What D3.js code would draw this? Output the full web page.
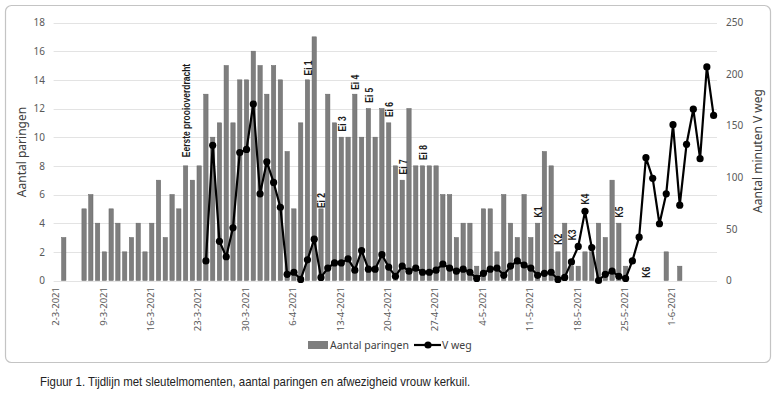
<!DOCTYPE html>
<html>
<head>
<meta charset="utf-8">
<script src="https://cdn.jsdelivr.net/npm/d3@7"></script>
<style>
  body { margin: 0; background: #fff; }
  svg { display: block; }
</style>
</head>
<body>
<div id="chart"></div>
<script>
// dagen 2-3-2021 t/m 7-6-2021
var startDay = new Date(2021, 2, 2);
var endDay = new Date(2021, 5, 8);
var days = d3.timeDay.range(startDay, endDay);

// aantal paringen per dag (vanaf 2-3)
var paringen = [
  0, 3, 0, 0, 5, 6, 4, 2, 5, 4, 2, 3, 4, 2, 4, 7, 3, 6, 5, 8,   // 2-3 .. 21-3
  7, 8, 13, 10, 11, 15, 11, 14, 14, 16,                          // 22-3 .. 31-3
  15, 13, 15, 14, 9, 5, 11, 14, 17, 5, 13, 11, 10, 10, 13, 10,   // 1-4 .. 16-4
  12, 10, 12, 11, 8, 7, 12, 8, 8, 8, 8, 6, 6, 3,                 // 17-4 .. 30-4
  4, 4, 1, 5, 5, 2, 6, 4, 3, 6, 3, 4, 9, 8, 2, 4, 1, 1, 2, 2,    // 1-5 .. 20-5
  4, 3, 7, 4, 1, 0, 0, 0, 0, 0, 2,                               // 21-5 .. 31-5
  0, 1, 0, 0, 0, 0, 0                                            // 1-6 .. 7-6
];

// minuten V weg (vanaf 24-3)
var vwegStart = new Date(2021, 2, 24);
var vweg = [
  19, 131, 38, 23, 51, 124, 127, 171,                             // 24-3 .. 31-3
  84, 115, 95, 71, 6, 8, 1, 20, 40, 3, 12, 17, 17, 21, 10,        // 1-4 .. 15-4
  29, 11, 11, 25, 13, 4, 14, 9, 12, 8, 8, 10, 16, 12, 9,          // 16-4 .. 30-4
  11, 8, 2, 7, 11, 12, 5, 14, 19, 15, 12, 5, 7, 8, 1, 3,          // 1-5 .. 16-5
  18, 33, 67, 32, 0, 6, 9, 4, 2, 19, 42, 119, 99, 55, 84,         // 17-5 .. 31-5
  151, 73, 132, 166, 118, 207, 160                                // 1-6 .. 7-6
];

// sleutelmomenten: datum, tekst, hoogte (in paringen)
var labelDates = ["21-3", "8-4", "10-4", "13-4", "15-4", "17-4", "20-4", "22-4", "25-4",
                  "12-5", "15-5", "17-5", "19-5", "24-5", "28-5"];
var labelTexts = ["Eerste prooioverdracht", "Ei 1", "Ei 2", "Ei 3", "Ei 4", "Ei 5", "Ei 6", "Ei 7", "Ei 8",
                  "K1", "K2", "K3", "K4", "K5", "K6"];
var labelLevels = [8.6, 14.3, 5.05, 10.4, 13.3, 12.4, 11.4, 7.4, 8.4, 4.4, 2.5, 2.8, 5.3, 4.4, 0.2];

var leftTicks = [0, 2, 4, 6, 8, 10, 12, 14, 16, 18];
var rightTicks = [0, 50, 100, 150, 200, 250];

var w = 780, h = 397;
var fmt = d3.timeFormat("%-d-%-m-%Y");
var parseLabel = function(s) { var p = s.split("-"); return new Date(2021, +p[1] - 1, +p[0]); };

var svg = d3.select("#chart").append("svg")
  .attr("width", w)
  .attr("height", h);

// kader
svg.append("rect")
  .attr("x", 5.5).attr("y", 5.5)
  .attr("width", 765).attr("height", 357)
  .attr("rx", 6)
  .style("fill", "#fff")
  .style("stroke", "#c4c4c4")
  .style("stroke-width", 1.2);

var x = d3.scaleBand()
  .domain(days.map(d => +d))
  .range([53.6, 717])
  .paddingInner(0.36)
  .paddingOuter(0.18);
var cx = d => x(+d) + x.bandwidth() / 2;

var yL = d3.scaleLinear().domain([0, 18]).range([280.5, 22.5]);
var yR = d3.scaleLinear().domain([0, 250]).range([280.5, 22.5]);

// rasterlijnen
svg.append("g")
  .selectAll("line")
  .data(leftTicks)
  .join("line")
  .attr("x1", 53.6).attr("x2", 717)
  .attr("y1", d => Math.round(yL(d)) + 0.5)
  .attr("y2", d => Math.round(yL(d)) + 0.5)
  .style("stroke", "#e3e3e3")
  .style("stroke-width", 1);

// assen
var leftAxis = svg.append("g")
  .attr("transform", "translate(45,0)")
  .call(d3.axisLeft(yL).tickValues(leftTicks).tickSize(0).tickPadding(0));
var rightAxis = svg.append("g")
  .attr("transform", "translate(726,0)")
  .call(d3.axisRight(yR).tickValues(rightTicks).tickSize(0).tickPadding(0));
[leftAxis, rightAxis].forEach(function(g) {
  g.select(".domain").remove();
  g.selectAll("text")
    .style("font-family", "'Noto Sans', sans-serif")
    .style("font-size", "10px")
    .style("fill", "#595959");
});

// datumlabels (elke week)
var tickDays = days.filter((d, i) => i % 7 == 0 && i <= 91);
svg.append("g")
  .selectAll("text")
  .data(tickDays)
  .join("text")
  .attr("transform", d => "translate(" + (cx(d) - 1) + ",287) rotate(-90)")
  .attr("text-anchor", "end")
  .attr("dy", "0.35em")
  .style("font-family", "'Noto Sans', sans-serif")
  .style("font-size", "9.5px")
  .style("fill", "#595959")
  .text(d => fmt(d));

// balken
svg.append("g")
  .selectAll("rect")
  .data(days.map((d, i) => ({ date: d, value: paringen[i] })).filter(d => d.value > 0))
  .join("rect")
  .attr("x", d => x(+d.date))
  .attr("y", d => yL(d.value))
  .attr("width", x.bandwidth())
  .attr("height", d => yL(0) - yL(d.value))
  .style("fill", "#7e7e7e")
  .style("stroke", "#666")
  .style("stroke-width", 0.5);

// lijn V weg
var lineData = vweg.map((v, i) => ({ date: d3.timeDay.offset(vwegStart, i), value: v }));
var line = d3.line()
  .x(d => cx(d.date))
  .y(d => yR(d.value));
svg.append("path")
  .datum(lineData)
  .attr("d", line)
  .style("fill", "none")
  .style("stroke", "#000")
  .style("stroke-width", 2.2)
  .style("stroke-linejoin", "round");
svg.append("g")
  .selectAll("circle")
  .data(lineData)
  .join("circle")
  .attr("cx", d => cx(d.date))
  .attr("cy", d => yR(d.value))
  .attr("r", 3.6)
  .style("fill", "#000");

// sleutelmomenten
svg.append("g")
  .selectAll("text")
  .data(labelTexts)
  .join("text")
  .attr("transform", (d, i) => "translate(" + (cx(parseLabel(labelDates[i])) + 1) + "," + yL(labelLevels[i]) + ") rotate(-90) scale(0.85,1)")
  .attr("dy", "0.35em")
  .style("font-family", "'Liberation Sans', sans-serif")
  .style("font-weight", "bold")
  .style("font-size", "10px")
  .style("fill", "#1a1a1a")
  .text(d => d);

// astitels
svg.append("text")
  .attr("transform", "translate(22,152) rotate(-90)")
  .attr("text-anchor", "middle")
  .attr("dy", "0.35em")
  .style("font-family", "'Noto Sans', sans-serif")
  .style("font-size", "12px")
  .style("fill", "#404040")
  .text("Aantal paringen");
svg.append("text")
  .attr("transform", "translate(758,151) rotate(-90)")
  .attr("text-anchor", "middle")
  .attr("dy", "0.35em")
  .style("font-family", "'Noto Sans', sans-serif")
  .style("font-size", "12px")
  .style("fill", "#404040")
  .text("Aantal minuten V weg");

// legenda
var legend = svg.append("g").attr("transform", "translate(308,345)");
legend.append("rect")
  .attr("x", 0).attr("y", -4)
  .attr("width", 20).attr("height", 8)
  .style("fill", "#7e7e7e");
legend.append("text")
  .attr("x", 22).attr("dy", "0.35em")
  .style("font-family", "'Noto Sans', sans-serif")
  .style("font-size", "10.5px")
  .style("fill", "#404040")
  .text("Aantal paringen");
legend.append("line")
  .attr("x1", 106).attr("x2", 133)
  .style("stroke", "#000").style("stroke-width", 2.2);
legend.append("circle")
  .attr("cx", 120).attr("r", 3.6)
  .style("fill", "#000");
legend.append("text")
  .attr("x", 134).attr("dy", "0.35em")
  .style("font-family", "'Noto Sans', sans-serif")
  .style("font-size", "10.5px")
  .style("fill", "#404040")
  .text("V weg");

// bijschrift (smal lettertype nagebootst)
svg.append("text")
  .attr("transform", "translate(40,386) scale(0.88,1)")
  .style("font-family", "'Liberation Sans', sans-serif")
  .style("font-size", "13px")
  .style("fill", "#222")
  .text("Figuur 1. Tijdlijn met sleutelmomenten, aantal paringen en afwezigheid vrouw kerkuil.");
</script>
</body>
</html>
